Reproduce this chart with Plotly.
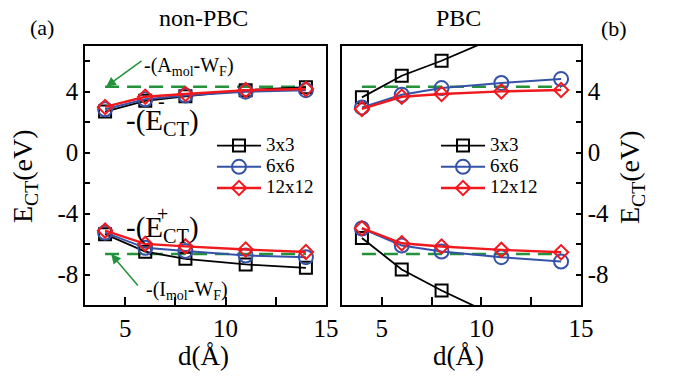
import plotly.graph_objects as go

W, H = 674, 379

# ---------------- data ----------------
d = [4, 6, 8, 11, 14]
series_names = ["3x3", "6x6", "12x12"]

# non-PBC (left panel)
np_minus_3x3 = [2.7, 3.4, 3.7, 4.1, 4.3]
np_minus_6x6 = [2.85, 3.5, 3.75, 4.0, 4.1]
np_minus_12x12 = [3.0, 3.67, 3.85, 4.1, 4.18]
np_plus_3x3 = [-5.35, -6.5, -6.97, -7.34, -7.56]
np_plus_6x6 = [-5.25, -6.25, -6.45, -6.75, -6.86]
np_plus_12x12 = [-5.12, -5.99, -6.15, -6.36, -6.52]

# PBC (right panel)
pbc_minus_3x3 = [3.63, 5.05, 6.03, 7.7, 9.4]
pbc_minus_6x6 = [2.97, 3.8, 4.24, 4.57, 4.83]
pbc_minus_12x12 = [2.87, 3.67, 3.85, 4.02, 4.11]
pbc_plus_3x3 = [-5.6, -7.67, -9.05, -10.9, -12.6]
pbc_plus_6x6 = [-4.98, -6.1, -6.49, -6.86, -7.15]
pbc_plus_12x12 = [-4.96, -5.95, -6.16, -6.38, -6.54]

# reference levels
ref_x = [4, 14]
A_level = [4.33, 4.33]   # -(A_mol - W_F)
I_level = [-6.65, -6.65]  # -(I_mol - W_F)

x_tickvals = [5, 10, 15]
x_ticktext = ["5", "10", "15"]
y_tickvals = [-8, -4, 0, 4]
y_ticktext = ["-8", "-4", "0", "4"]

# ---------------- styling ----------------
FONT = "Liberation Serif"
colors = ["#000000", "#3552a8", "#f0191e"]
symbols = ["square-open", "circle-open", "diamond-open"]
msizes = [12, 14, 11]
lwidths = [1.8, 2.0, 2.4]
GREEN = "#23923a"


def serif(s, size=None):
    extra = f";font-size:{size}px" if size else ""
    return f'<span style="font-family:{FONT}{extra}">{s}</span>'


def px(x):
    return x / W


def py(y):
    return 1 - y / H


fig = go.Figure()

panels = [
    ("x", "y", "legend", [np_minus_3x3, np_minus_6x6, np_minus_12x12],
     [np_plus_3x3, np_plus_6x6, np_plus_12x12]),
    ("x2", "y2", "legend2", [pbc_minus_3x3, pbc_minus_6x6, pbc_minus_12x12],
     [pbc_plus_3x3, pbc_plus_6x6, pbc_plus_12x12]),
]

for xa, ya, leg, minus, plus in panels:
    for lvl in (A_level, I_level):
        fig.add_trace(go.Scatter(
            x=ref_x, y=lvl, mode="lines", xaxis=xa, yaxis=ya,
            line=dict(color=GREEN, width=2.5, dash="14px,8px"),
            showlegend=False, hoverinfo="skip"))
    for i, name in enumerate(series_names):
        for k, vals in enumerate((minus[i], plus[i])):
            fig.add_trace(go.Scatter(
                x=d, y=vals, mode="lines+markers", xaxis=xa, yaxis=ya,
                name=serif(name, 19), legend=leg, legendgroup=leg + name,
                showlegend=(k == 0),
                line=dict(color=colors[i], width=lwidths[i]),
                marker=dict(symbol=symbols[i], size=msizes[i],
                            color=colors[i], line=dict(width=2, color=colors[i])),
                cliponaxis=True))

axis_common = dict(
    showline=True, linecolor="black", linewidth=1.5, mirror=True,
    showgrid=False, zeroline=False, ticks="inside", tickcolor="black",
    tickwidth=1.5, tickfont=dict(family=FONT, size=25, color="black"))

xdom1 = [px(85), px(326)]
xdom2 = [px(342), px(581)]
ydom = [py(305), py(46)]

xaxis_cfg = dict(axis_common, range=[3, 15], tickmode="array", tickvals=x_tickvals,
                 ticktext=[serif(t) for t in x_ticktext], ticklen=8,
                 minor=dict(dtick=2.5, tick0=0, ticks="inside", ticklen=8,
                            tickwidth=1.5, tickcolor="black"))
yaxis_cfg = dict(axis_common, range=[-10, 7], tickmode="array", tickvals=y_tickvals,
                 ticktext=[serif(t) for t in y_ticktext], ticklen=5,
                 minor=dict(dtick=2, tick0=0, ticks="inside", ticklen=5,
                            tickwidth=1.5, tickcolor="black"))

legend_common = dict(xanchor="left", yanchor="top", bgcolor="rgba(0,0,0,0)",
                     font=dict(family=FONT, size=14, color="black"),
                     itemwidth=44, tracegroupgap=0)

fig.update_layout(
    template="none",
    width=W, height=H, margin=dict(l=0, r=0, t=0, b=0),
    paper_bgcolor="white", plot_bgcolor="white",
    font=dict(family=FONT, color="black", size=16),
    xaxis=dict(xaxis_cfg, domain=xdom1, anchor="y"),
    yaxis=dict(yaxis_cfg, domain=ydom, anchor="x", side="left"),
    xaxis2=dict(xaxis_cfg, domain=xdom2, anchor="y2"),
    yaxis2=dict(yaxis_cfg, domain=ydom, anchor="x2", side="right"),
    legend=dict(legend_common, x=px(212), y=py(130)),
    legend2=dict(legend_common, x=px(436), y=py(130)),
    showlegend=True,
)

annots = [
    dict(text="(a)", x=px(42), y=py(27), size=22),
    dict(text="(b)", x=px(614), y=py(29), size=22),
    dict(text="non-PBC", x=px(203), y=py(18), size=24),
    dict(text="PBC", x=px(458), y=py(18), size=24),
    dict(text="d(Å)", x=px(203), y=py(356), size=27),
    dict(text="d(Å)", x=px(458), y=py(356), size=27),
    dict(text="E<sub>CT</sub>(eV)", x=px(24), y=py(177), size=28, angle=-90),
    dict(text="E<sub>CT</sub>(eV)", x=px(632), y=py(178), size=28, angle=-90),
    dict(text="-(A<sub>mol</sub>-W<sub>F</sub>)", x=px(189), y=py(66), size=20),
    dict(text="-(I<sub>mol</sub>-W<sub>F</sub>)", x=px(187), y=py(290), size=20),
    dict(text="-(E<sub>CT</sub>)", x=px(162), y=py(122), size=29),
    dict(text="-", x=px(161), y=py(101), size=20),
    dict(text="-(E<sub>CT</sub>)", x=px(162), y=py(229), size=29),
    dict(text="+", x=px(162), y=py(214), size=20),
]
for a in annots:
    fig.add_annotation(text=a["text"], x=a["x"], y=a["y"], xref="paper", yref="paper",
                       showarrow=False, textangle=a.get("angle", 0),
                       xanchor="center", yanchor="middle",
                       font=dict(family=FONT, size=a["size"], color="black"))

# arrows pointing at the reference levels
fig.add_annotation(text="", x=4.05, y=A_level[0], xref="x", yref="y",
                   ax=37, ay=-27, axref="pixel", ayref="pixel", showarrow=True,
                   arrowhead=2, arrowsize=1.3, arrowwidth=1.5, arrowcolor=GREEN)
fig.add_annotation(text="", x=4.3, y=I_level[0], xref="x", yref="y",
                   ax=28, ay=33, axref="pixel", ayref="pixel", showarrow=True,
                   arrowhead=2, arrowsize=1.3, arrowwidth=1.5, arrowcolor=GREEN)

fig.write_html("out.html", config={"displayModeBar": False},
               post_script="document.body.style.margin='0';")
